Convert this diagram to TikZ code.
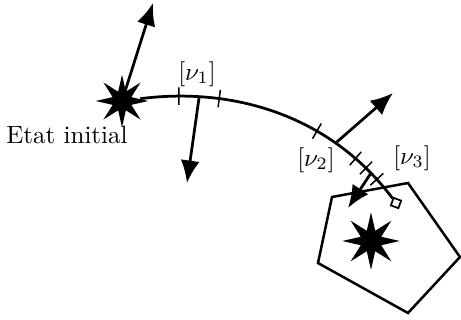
\documentclass[tikz,border=0pt]{standalone}
\usetikzlibrary{arrows.meta,shapes.geometric}

\begin{document}
\begin{tikzpicture}[
    x=0.4pt, y=-0.4pt, % pixel-like grid, y pointing down
    >={Latex[length=9pt,width=7.6pt]}, % Set default arrow tip style
    startype/.style={star, star points=8, star point ratio=2.6, fill=black, inner sep=0pt, minimum size=21pt}, % Style for the states
    vec/.style={->, line width=1.1pt}, % Style for the arrows
    tickmark/.style={sloped, draw, line width=0.6pt, inner sep=0pt, outer sep=0pt, minimum width=0pt, minimum height=7pt} % Style for tick marks
]
    \useasboundingbox (0,0) rectangle (461,320);

    % States
    \node[startype] (s1) at (122,101) {};
    \node[startype, minimum size=23pt] (s2) at (371,241) {};
    \node[draw, line width=0.7pt, inner sep=0pt, minimum size=3.2pt, rotate=-20] (sq) at (396,203) {};

    % Labels
    \node (etat) at (67,135) {Etat initial};
    \node (l1) at (197,74) {$[\nu_1]$};
    \node (l2) at (316,160) {$[\nu_2]$};
    \node (l3) at (412,158) {$[\nu_3]$};

    % Path from the initial state, with ticks and the feet of the arrows
    \draw[line width=1.1pt] (s1) .. controls (240,86) and (334,120) .. (sq)
        node[tickmark, pos=0.13] {}
        coordinate[pos=0.20] (b1)
        node[tickmark, pos=0.27] {}
        node[tickmark, pos=0.64] {}
        coordinate[pos=0.72] (b2)
        node[tickmark, pos=0.81] {}
        node[tickmark, pos=0.86] {}
        coordinate[pos=0.885] (b3)
        node[tickmark, pos=0.915] {};

    % Arrow tips
    \coordinate (u0) at (153,3);
    \coordinate (u1) at (187,183);
    \coordinate (u2) at (393,93);
    \coordinate (u3) at (348,208);

    % Arrows
    \draw[vec] (s1.center) -- (u0);
    \draw[vec] (b1) -- (u1);
    \draw[vec] (b2) -- (u2);
    \draw[vec] (b3) -- (u3);

    % Target region
    \draw[line width=1pt] (332,197) -- (408,183) -- (460,257) -- (408,313) -- (318,263) -- cycle;

\end{tikzpicture}
\end{document}
